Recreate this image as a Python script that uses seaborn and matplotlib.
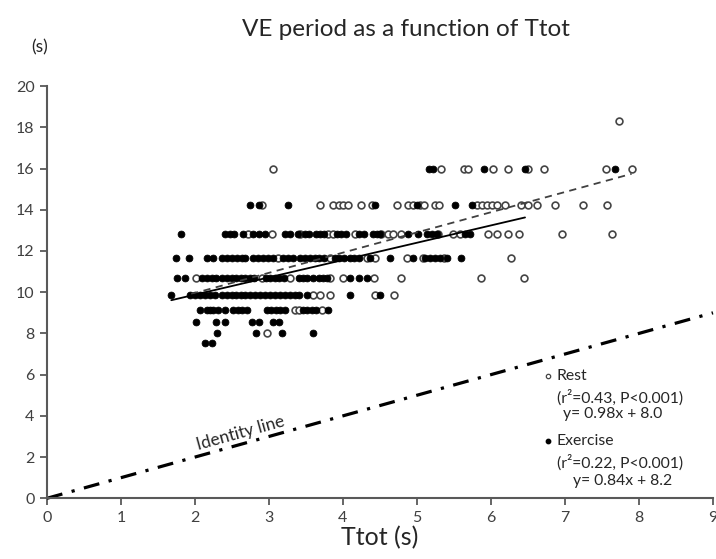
"""
VE period vs Ttot scatter (rest / exercise) with fitted lines and identity line
"""

import numpy as np
import pandas as pd
import matplotlib
matplotlib.use("Agg")
import matplotlib.pyplot as plt
import seaborn as sns

# ---------------------------------------------------------------------------
# Data
# ---------------------------------------------------------------------------
# VE period levels (s) on the y axis
periods = [7.53, 8.0, 8.53, 9.14, 9.85, 10.67, 11.64, 12.8, 14.22, 16.0, 18.29]

# Ttot (s) of the points sitting on each period level
rest_ttot = [
    [],
    [2.97],
    [],
    [3.35, 3.41, 3.71],
    [3.59, 3.69, 3.82, 4.43, 4.69],
    [2.02, 2.90, 3.28, 3.82, 4.00, 4.42, 4.78, 5.86, 6.45],
    [3.12, 3.82, 4.32, 4.43, 4.86, 5.08, 5.37, 6.27],
    [2.72, 3.04, 3.42, 3.80, 3.86, 4.16, 4.51, 4.61, 4.67, 4.79, 5.28, 5.49,
     5.58, 5.96, 6.08, 6.23, 6.38, 6.96, 7.64],
    [2.90, 3.69, 3.87, 3.94, 4.00, 4.07, 4.25, 4.39, 4.73, 4.88, 4.95, 5.04,
     5.09, 5.24, 5.30, 5.81, 5.88, 5.94, 6.01, 6.08, 6.19, 6.41, 6.50, 6.62,
     6.86, 7.25, 7.57],
    [3.06, 5.32, 5.63, 5.69, 6.03, 6.23, 6.50, 6.71, 7.55, 7.90],
    [7.73],
]
exercise_ttot = [
    [2.14, 2.23],
    [2.30, 2.83, 3.18, 3.60],
    [2.02, 2.29, 2.41, 2.77, 2.86, 3.06, 3.14],
    [2.07, 2.16, 2.20, 2.25, 2.31, 2.40, 2.52, 2.58, 2.64, 2.70, 2.97, 3.03,
     3.09, 3.15, 3.21, 3.46, 3.52, 3.58, 3.64, 3.80],
    [1.67, 1.93, 2.00, 2.07, 2.14, 2.20, 2.27, 2.36, 2.43, 2.50, 2.56, 2.62,
     2.68, 2.74, 2.81, 2.88, 2.95, 3.01, 3.08, 3.15, 3.22, 3.28, 3.35, 3.40,
     3.51, 4.09, 4.50],
    [1.76, 1.86, 2.09, 2.16, 2.23, 2.29, 2.36, 2.43, 2.50, 2.56, 2.62, 2.68,
     2.74, 2.80, 2.96, 3.02, 3.08, 3.14, 3.20, 3.40, 3.46, 3.52, 3.60, 3.67,
     3.73, 3.78, 4.09, 4.21, 4.32],
    [1.75, 1.92, 2.16, 2.25, 2.36, 2.43, 2.50, 2.57, 2.63, 2.68, 2.79, 2.85,
     2.92, 2.99, 3.06, 3.19, 3.26, 3.33, 3.42, 3.49, 3.55, 3.62, 3.68, 3.75,
     3.89, 3.95, 4.02, 4.09, 4.15, 4.22, 4.36, 4.64, 4.94, 5.11, 5.18, 5.24,
     5.31, 5.41, 5.59],
    [1.81, 2.41, 2.47, 2.53, 2.65, 2.79, 2.86, 2.95, 3.22, 3.28, 3.39, 3.49,
     3.54, 3.63, 3.69, 3.75, 3.92, 3.98, 4.04, 4.22, 4.28, 4.40, 4.46, 4.50,
     4.88, 5.01, 5.13, 5.20, 5.27, 5.65, 5.72],
    [2.74, 2.86, 3.26, 4.43, 5.00, 5.51, 5.74],
    [5.16, 5.21, 5.91, 6.46, 7.68],
    [],
]

# fitted lines: y = slope * x + intercept over the given Ttot range
groups = ["Rest", "Exercise"]
slopes = [0.98, 0.84]
intercepts = [8.0, 8.2]
fit_x_range = [(1.95, 7.90), (1.68, 6.46)]
r2_values = [0.43, 0.22]

# ---------------------------------------------------------------------------
# Build table
# ---------------------------------------------------------------------------
rows = []
for group, per_level in zip(groups, [rest_ttot, exercise_ttot]):
    for period, xs in zip(periods, per_level):
        for x in xs:
            rows.append({"Ttot": x, "VE": period, "group": group})
df = pd.DataFrame(rows)

# ---------------------------------------------------------------------------
# Plot
# ---------------------------------------------------------------------------
sns.set_theme(style="ticks")
plt.rcParams["font.family"] = ["Lato", "DejaVu Sans"]
axis_grey = "#595959"

fig = plt.figure(figsize=(7.16, 5.59), dpi=100)
ax = fig.add_axes([0.0656, 0.1086, 0.9302, 0.7374])

sns.scatterplot(data=df[df.group == "Rest"], x="Ttot", y="VE", ax=ax,
                s=24, facecolor="white", edgecolor="#454545", linewidth=1.2,
                legend=False, zorder=3)
sns.scatterplot(data=df[df.group == "Exercise"], x="Ttot", y="VE", ax=ax,
                s=24, color="black", edgecolor="black", linewidth=0.6,
                legend=False, zorder=4)

# regression lines
styles = [dict(color="#404040", lw=1.3, ls=(0, (4, 3))),
          dict(color="black", lw=1.3, ls="-")]
for slope, icpt, (x0, x1), st in zip(slopes, intercepts, fit_x_range, styles):
    xs = np.array([x0, x1])
    ax.plot(xs, slope * xs + icpt, zorder=5, **st)

# identity line
ident = np.array([0, 9])
ax.plot(ident, ident, color="black", lw=2.3, ls=(0, (5, 3, 1, 3)),
        zorder=2, clip_on=False)
ax.text(2.62, 3.15, "Identity line", rotation=15.5, fontsize=12.5,
        color="#262626", ha="center", va="center")

# custom legend block
ax.scatter([6.77], [5.92], s=10, facecolor="white", edgecolor="#454545",
           linewidth=0.9, zorder=6)
ax.scatter([6.77], [2.80], s=10, color="black", zorder=6)
txt = dict(fontsize=11.3, color="#262626", va="center", ha="left")
ax.text(6.89, 5.92, "Rest", **txt)
ax.text(6.89, 4.90, f"(r²={r2_values[0]:.2f}, P<0.001)", **txt)
ax.text(6.97, 4.10, f"y= {slopes[0]:.2f}x + {intercepts[0]:.1f}", **txt)
ax.text(6.89, 2.80, "Exercise", **txt)
ax.text(6.89, 1.74, f"(r²={r2_values[1]:.2f}, P<0.001)", **txt)
ax.text(7.11, 0.82, f"y= {slopes[1]:.2f}x + {intercepts[1]:.1f}", **txt)

# axes styling
ax.set_xlim(0, 9)
ax.set_ylim(0, 20)
ax.set_xticks(range(0, 10))
ax.set_yticks(range(0, 21, 2))
sns.despine(ax=ax)
for sp in ["left", "bottom"]:
    ax.spines[sp].set_color(axis_grey)
    ax.spines[sp].set_linewidth(1.5)
ax.tick_params(axis="both", direction="out", length=5, width=1.3,
               color=axis_grey, labelcolor="#404040", labelsize=11.5, pad=4)
ax.set_xlabel("Ttot (s)", fontsize=18, color="#262626", labelpad=1)
ax.set_ylabel("")

fig.text(406 / 716, 1 - 30 / 559, "VE period as a function of Ttot",
         fontsize=17.5, color="#262626", ha="center", va="center")
fig.text(40 / 716, 1 - 47 / 559, "(s)", fontsize=12.5, color="#262626",
         ha="center", va="center")

fig.savefig("out.png", dpi=100)
plt.close(fig)
